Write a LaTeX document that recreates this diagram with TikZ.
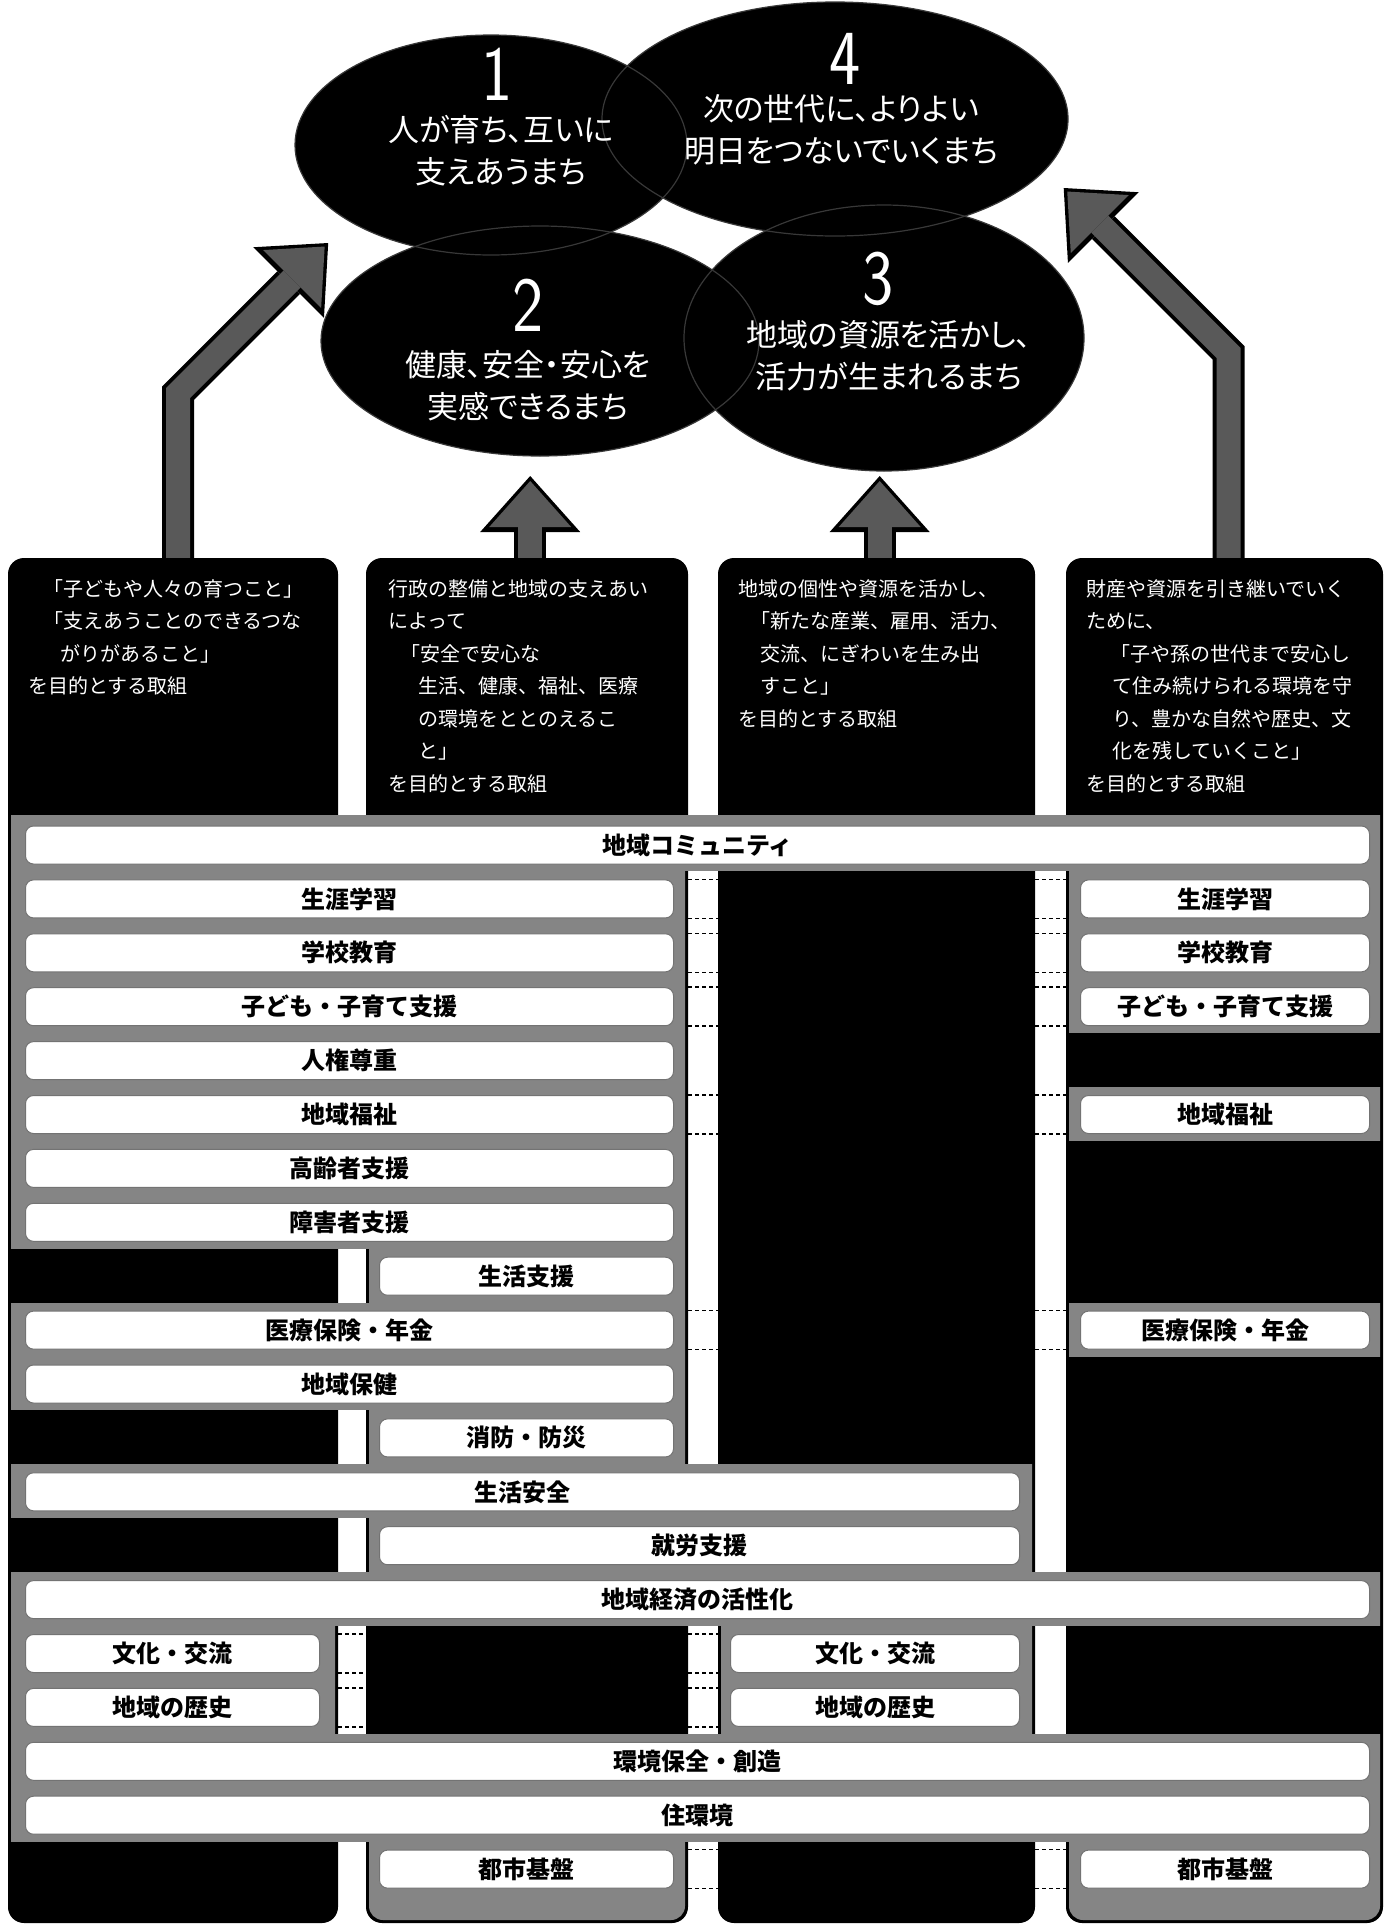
\documentclass[tikz,border=0pt]{standalone}
\usepackage{fontspec}
\newfontfamily\jp{Noto Sans CJK JP}
\newfontfamily\jpp[RawFeature=+palt]{Noto Sans CJK JP}
\usetikzlibrary{arrows.meta,shapes.geometric}
\definecolor{panelgray}{gray}{0.52}
\definecolor{arrowgray}{gray}{0.35}
\definecolor{ellgray}{gray}{0.22}
\newcommand\rowT[1]{(825.5+53.9*(#1))}
\newcommand\runS[1]{(817.55+53.9*(#1))}
\newcommand\runE[1]{(871.45+53.9*(#1))}
\newcommand\rowbar[5]{\node[barbox, minimum width={#4-#3}] (#1) at (#3,{\rowT{#2}}) {#5};}
\newcommand\gdash[3]{\draw[gapdash] (#2,0 |- #1.north) -- (#3,0 |- #1.north);\draw[gapdash] (#2,0 |- #1.south) -- (#3,0 |- #1.south);}
\begin{document}
\begin{tikzpicture}[x=1pt,y=-1pt,
  ell/.style={ellipse, fill=black, inner sep=0pt, draw=none},
  ellline/.style={draw=ellgray, line width=1.2pt},
  numtxt/.style={text=white, font=\sffamily\fontsize{78}{78}\selectfont, inner sep=0pt, text height=52pt, text depth=0pt},
  elltxt/.style={text=white, font=\jpp\fontsize{31}{42}\selectfont, align=center, inner sep=0pt},
  headtxt/.style={text=white, font=\jp\fontsize{20}{32.5}\selectfont, align=left, anchor=north west, inner sep=0pt},
  headbox/.style={minimum height=257pt, anchor=north west, inner sep=0pt},
  barbox/.style={fill=white, draw=black!55, line width=1pt, rounded corners=8pt, minimum height=38pt, inner sep=0pt, anchor=north west, font=\jp\bfseries\fontsize{24}{24}\selectfont},
  gapdash/.style={draw=black, line width=1.6pt, dash pattern=on 4pt off 3pt},
  arrowout/.style={line width=32pt, draw=black, -{Triangle[length=56pt,width=100pt,line width=0pt]}},
  arrowin/.style={line width=24pt, draw=arrowgray, shorten >=5pt, -{Triangle[length=46pt,width=82pt,line width=0pt]}}
]
\useasboundingbox (0,0) rectangle (1391,1925);
\fill[white] (0,0) rectangle (1391,1925);

% header boxes (named areas)
\node[headbox, minimum width=330pt] (h1) at (8,558) {};
\node[headbox, minimum width=322pt] (h2) at (366,558) {};
\node[headbox, minimum width=317pt] (h3) at (718,558) {};
\node[headbox, minimum width=317pt] (h4) at (1066,558) {};

% ellipses
\node[ell, minimum width=392pt, minimum height=220pt] (e1) at (491,145) {};
\node[ell, minimum width=466pt, minimum height=234pt] (e4) at (835,119) {};
\node[ell, minimum width=438pt, minimum height=230pt] (e2) at (540,341) {};
\node[ell, minimum width=400pt, minimum height=266pt] (e3) at (884,338) {};
\draw[ellline] (e1.center) ellipse [x radius=196, y radius=110];
\draw[ellline] (e4.center) ellipse [x radius=233, y radius=117];
\draw[ellline] (e2.center) ellipse [x radius=219, y radius=115];
\draw[ellline] (e3.center) ellipse [x radius=200, y radius=133];

\node[numtxt] (n1) at (497,74) {\scalebox{0.85}[1]{1}};
\node[elltxt] (l1) at (501,151) {人が育ち、互いに\\支えあうまち};
\node[numtxt] (n4) at (845,58) {\scalebox{0.85}[1]{4}};
\node[elltxt] (l4) at (841,130) {次の世代に、よりよい\\明日をつないでいくまち};
\node[numtxt] (n2) at (528,305) {\scalebox{0.85}[1]{2}};
\node[elltxt] (l2) at (528,386) {健康、安全・安心を\\実感できるまち};
\node[numtxt] (n3) at (878,278) {\scalebox{0.85}[1]{3}};
\node[elltxt] (l3) at (889,356) {地域の資源を活かし、\\活力が生まれるまち};

% arrows
\draw[arrowout] ([xshift=5pt]h1.north) -- ++(0,-165) -- ++(150,-150);
\draw[arrowout] ([xshift=3pt]h2.north) -- ++(0,-82);
\draw[arrowout] ([xshift=3pt]h3.north) -- ++(0,-82);
\draw[arrowout] ([xshift=4pt]h4.north) -- ++(0,-205) -- ++(-165,-165);
\draw[arrowin] ([xshift=5pt]h1.north) -- ++(0,-165) -- ++(150,-150);
\draw[arrowin] ([xshift=3pt]h2.north) -- ++(0,-82);
\draw[arrowin] ([xshift=3pt]h3.north) -- ++(0,-82);
\draw[arrowin] ([xshift=4pt]h4.north) -- ++(0,-205) -- ++(-165,-165);

% column panels
\fill[black, rounded corners=16pt] (8,558) rectangle (338,1923);
\fill[black, rounded corners=16pt] (366,558) rectangle (688,1923);
\fill[black, rounded corners=16pt] (718,558) rectangle (1035,1923);
\fill[black, rounded corners=16pt] (1066,558) rectangle (1383,1923);

% gray areas column 1
\begin{scope}
 \clip[rounded corners=14pt] (11,561) rectangle (335,1920);
 \fill[panelgray] (0,815) rectangle (1391,{\runE{7}});
 \fill[panelgray] (0,{\runS{9}}) rectangle (1391,{\runE{10}});
 \fill[panelgray] (0,{\runS{12}}) rectangle (1391,{\runE{12}});
 \fill[panelgray] (0,{\runS{14}}) rectangle (1391,{\runE{18}});
\end{scope}
% column 2
\begin{scope}
 \clip[rounded corners=14pt] (369,561) rectangle (685,1920);
 \fill[panelgray] (0,815) rectangle (1391,{\runE{14}});
 \fill[panelgray] (0,{\runS{17}}) rectangle (1391,1925);
\end{scope}
% column 3
\begin{scope}
 \clip[rounded corners=14pt] (721,561) rectangle (1032,1920);
 \fill[panelgray] (0,815) rectangle (1391,{\runE{0}});
 \fill[panelgray] (0,{\runS{12}}) rectangle (1391,{\runE{18}});
\end{scope}
% column 4
\begin{scope}
 \clip[rounded corners=14pt] (1069,561) rectangle (1380,1920);
 \fill[panelgray] (0,815) rectangle (1391,{\runE{3}});
 \fill[panelgray] (0,{\runS{5}}) rectangle (1391,{\runE{5}});
 \fill[panelgray] (0,{\runS{9}}) rectangle (1391,{\runE{9}});
 \fill[panelgray] (0,{\runS{14}}) rectangle (1391,{\runE{14}});
 \fill[panelgray] (0,{\runS{17}}) rectangle (1391,1925);
\end{scope}
% gaps
\fill[panelgray] (335,815) rectangle (369,{\runE{7}});
\fill[panelgray] (335,{\runS{9}}) rectangle (369,{\runE{10}});
\fill[panelgray] (335,{\runS{12}}) rectangle (369,{\runE{12}});
\fill[panelgray] (335,{\runS{14}}) rectangle (369,{\runE{14}});
\fill[panelgray] (335,{\runS{17}}) rectangle (369,{\runE{18}});
\fill[panelgray] (685,815) rectangle (721,{\runE{0}});
\fill[panelgray] (685,{\runS{12}}) rectangle (721,{\runE{14}});
\fill[panelgray] (685,{\runS{17}}) rectangle (721,{\runE{18}});
\fill[panelgray] (1032,815) rectangle (1069,{\runE{0}});
\fill[panelgray] (1032,{\runS{14}}) rectangle (1069,{\runE{14}});
\fill[panelgray] (1032,{\runS{17}}) rectangle (1069,{\runE{18}});

% header texts
\node[headtxt] (t1) at ([xshift=20pt,yshift=-21pt]h1.north west) {%
\hspace*{0.75em}「子どもや人々の育つこと」\\%
\hspace*{0.75em}「支えあうことのできるつな\\%
\hspace*{1.6em}がりがあること」\\%
を目的とする取組};
\node[headtxt] (t2) at ([xshift=22pt,yshift=-21pt]h2.north west) {%
行政の整備と地域の支えあい\\%
によって\\%
\hspace*{0.6em}「安全で安心な\\%
\hspace*{1.5em}生活、健康、福祉、医療\\%
\hspace*{1.5em}の環境をととのえるこ\\%
\hspace*{1.5em}と」\\%
を目的とする取組};
\node[headtxt] (t3) at ([xshift=20pt,yshift=-21pt]h3.north west) {%
地域の個性や資源を活かし、\\%
\hspace*{0.6em}「新たな産業、雇用、活力、\\%
\hspace*{1.1em}交流、にぎわいを生み出\\%
\hspace*{1.1em}すこと」\\%
を目的とする取組};
\node[headtxt] (t4) at ([xshift=20pt,yshift=-21pt]h4.north west) {%
財産や資源を引き継いでいく\\%
ために、\\%
\hspace*{1.2em}「子や孫の世代まで安心し\\%
\hspace*{1.3em}て住み続けられる環境を守\\%
\hspace*{1.3em}り、豊かな自然や歴史、文\\%
\hspace*{1.3em}化を残していくこと」\\%
を目的とする取組};

% bars
\rowbar{b0}{0}{25}{1369}{地域コミュニティ}
\rowbar{b1}{1}{25}{673}{生涯学習}
\rowbar{b1r}{1}{1080}{1369}{生涯学習}
\rowbar{b2}{2}{25}{673}{学校教育}
\rowbar{b2r}{2}{1080}{1369}{学校教育}
\rowbar{b3}{3}{25}{673}{子ども・子育て支援}
\rowbar{b3r}{3}{1080}{1369}{子ども・子育て支援}
\rowbar{b4}{4}{25}{673}{人権尊重}
\rowbar{b5}{5}{25}{673}{地域福祉}
\rowbar{b5r}{5}{1080}{1369}{地域福祉}
\rowbar{b6}{6}{25}{673}{高齢者支援}
\rowbar{b7}{7}{25}{673}{障害者支援}
\rowbar{b8}{8}{379}{673}{生活支援}
\rowbar{b9}{9}{25}{673}{医療保険・年金}
\rowbar{b9r}{9}{1080}{1369}{医療保険・年金}
\rowbar{b10}{10}{25}{673}{地域保健}
\rowbar{b11}{11}{379}{673}{消防・防災}
\rowbar{b12}{12}{25}{1019}{生活安全}
\rowbar{b13}{13}{379}{1019}{就労支援}
\rowbar{b14}{14}{25}{1369}{地域経済の活性化}
\rowbar{b15}{15}{25}{319}{文化・交流}
\rowbar{b15r}{15}{730}{1019}{文化・交流}
\rowbar{b16}{16}{25}{319}{地域の歴史}
\rowbar{b16r}{16}{730}{1019}{地域の歴史}
\rowbar{b17}{17}{25}{1369}{環境保全・創造}
\rowbar{b18}{18}{25}{1369}{住環境}
\rowbar{b19}{19}{379}{673}{都市基盤}
\rowbar{b19r}{19}{1080}{1369}{都市基盤}

% dashed gap connectors
\gdash{b1}{688}{718}\gdash{b1r}{1035}{1066}
\gdash{b2}{688}{718}\gdash{b2r}{1035}{1066}
\gdash{b3}{688}{718}\gdash{b3r}{1035}{1066}
\gdash{b5}{688}{718}\gdash{b5r}{1035}{1066}
\gdash{b9}{688}{718}\gdash{b9r}{1035}{1066}
\gdash{b19}{688}{718}\gdash{b19r}{1035}{1066}
\gdash{b15}{338}{366}\gdash{b15r}{688}{718}
\gdash{b16}{338}{366}\gdash{b16r}{688}{718}
\end{tikzpicture}
\end{document}
